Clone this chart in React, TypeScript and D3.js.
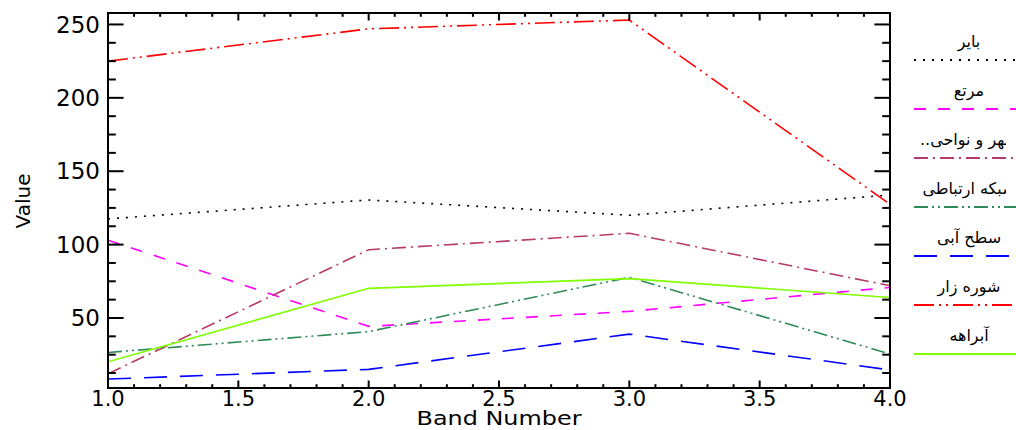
import React from 'react';
import * as d3 from 'd3';

// ---- data ----
const bands = [1, 2, 3, 4];
const seriesNames = ['بایر', 'مرتع', 'شهر و نواحی..', 'شبکه ارتباطی', 'سطح آبی', 'شوره زار', 'آبراهه'];
const barren = [117.5, 130.4, 120.0, 133.8];
const pasture = [103.0, 44.3, 54.5, 70.8];
const urban = [12.0, 96.5, 107.7, 72.0];
const roads = [26.5, 40.7, 77.7, 25.5];
const water = [8.4, 15.0, 39.0, 14.6];
const saltMarsh = [225.0, 247.0, 253.0, 127.5];
const stream = [20.2, 70.2, 76.8, 64.0];
const xTickLabels = ['1.0', '1.5', '2.0', '2.5', '3.0', '3.5', '4.0'];
const yTickLabels = ['50', '100', '150', '200', '250'];

const seriesValues = [barren, pasture, urban, roads, water, saltMarsh, stream];
const seriesColors = ['#000000', '#ff00ff', '#b83a6a', '#2e8b57', '#0000ff', '#ff0000', '#7fff00'];
const seriesDash = ['2,7', '12,12', '14,5,2,5', '14,4,2,4,2,4', '23,13', '20,5,2,5,2,5', 'none'];

const W = 1016;
const H = 430;
const L = 108, R = 890, T = 13, B = 388;

export default function App() {
  const x = d3.scaleLinear().domain([1, 4]).range([L, R]);
  const y = d3.scaleLinear().domain([2.3, 257.8]).range([B, T]);
  const line = d3.line<number>().x((_, i) => x(bands[i])).y((d) => y(d));

  const xMajor = xTickLabels.map(Number);
  const xMinor = d3.range(1, 4.0001, 0.1).filter((v) => !xMajor.some((m) => Math.abs(m - v) < 1e-6));
  const yMajor = yTickLabels.map(Number);
  const yMinor = d3.range(12.5, 257.8, 12.5).filter((v) => !yMajor.includes(v));

  const xMajLen = 7.5, xMinLen = 3.8, yMajLen = 15.6, yMinLen = 7.8;
  const font = 'DejaVu Sans, sans-serif';

  return (
    <svg width={W} height={H} style={{ position: 'absolute', left: 0, top: 0, background: '#fff' }}>
      <defs>
        <clipPath id="plotclip">
          <rect x={L} y={T} width={R - L} height={B - T} />
        </clipPath>
        <clipPath id="legclip">
          <rect x={900} y={0} width={106} height={H} />
        </clipPath>
      </defs>
      <rect x={0} y={0} width={W} height={H} fill="#fff" />

      {/* series */}
      <g clipPath="url(#plotclip)">
        {seriesValues.map((vals, i) => (
          <path
            key={i}
            d={line(vals) || ''}
            fill="none"
            stroke={seriesColors[i]}
            strokeWidth={1.6}
            strokeDasharray={seriesDash[i]}
          />
        ))}
      </g>

      {/* axes box */}
      <rect x={L} y={T} width={R - L} height={B - T} fill="none" stroke="#000" strokeWidth={2} />

      {/* ticks */}
      <g stroke="#000" strokeWidth={2}>
        {xMajor.map((v, i) => (
          <g key={'xm' + i}>
            <line x1={x(v)} x2={x(v)} y1={B} y2={B - xMajLen} />
            <line x1={x(v)} x2={x(v)} y1={T} y2={T + xMajLen} />
          </g>
        ))}
        {xMinor.map((v, i) => (
          <g key={'xn' + i}>
            <line x1={x(v)} x2={x(v)} y1={B} y2={B - xMinLen} />
            <line x1={x(v)} x2={x(v)} y1={T} y2={T + xMinLen} />
          </g>
        ))}
        {yMajor.map((v, i) => (
          <g key={'ym' + i}>
            <line x1={L} x2={L + yMajLen} y1={y(v)} y2={y(v)} />
            <line x1={R} x2={R - yMajLen} y1={y(v)} y2={y(v)} />
          </g>
        ))}
        {yMinor.map((v, i) => (
          <g key={'yn' + i}>
            <line x1={L} x2={L + yMinLen} y1={y(v)} y2={y(v)} />
            <line x1={R} x2={R - yMinLen} y1={y(v)} y2={y(v)} />
          </g>
        ))}
      </g>

      {/* tick labels */}
      <g fontFamily={font} fontSize={21} fill="#000">
        {xTickLabels.map((t, i) => (
          <text key={'xl' + i} x={x(xMajor[i])} y={406} textAnchor="middle">
            {t}
          </text>
        ))}
      </g>
      <g fontFamily={font} fontSize={23} fill="#000">
        {yTickLabels.map((t, i) => (
          <text key={'yl' + i} x={100} y={y(yMajor[i])} dy="0.36em" textAnchor="end">
            {t}
          </text>
        ))}
      </g>

      {/* axis titles */}
      <text x={(L + R) / 2} y={425} textAnchor="middle" fontFamily={font} fontSize={19} textLength={165} lengthAdjust="spacingAndGlyphs">
        Band Number
      </text>
      <text
        transform={`translate(30, 201) rotate(-90)`}
        textAnchor="middle"
        fontFamily={font}
        fontSize={20}
      >
        Value
      </text>

      {/* legend */}
      <g>
        {seriesNames.map((name, i) => {
          const ly = 60 + i * 49;
          return (
            <g key={'lg' + i}>
              <text
                x={969}
                y={ly - 13}
                textAnchor="middle"
                fontFamily={font}
                fontSize={16}
                direction="rtl"
                clipPath="url(#legclip)"
              >
                {name}
              </text>
              <line
                x1={914}
                x2={1020}
                y1={ly}
                y2={ly}
                stroke={seriesColors[i]}
                strokeWidth={2}
                strokeDasharray={seriesDash[i]}
              />
            </g>
          );
        })}
      </g>
    </svg>
  );
}
